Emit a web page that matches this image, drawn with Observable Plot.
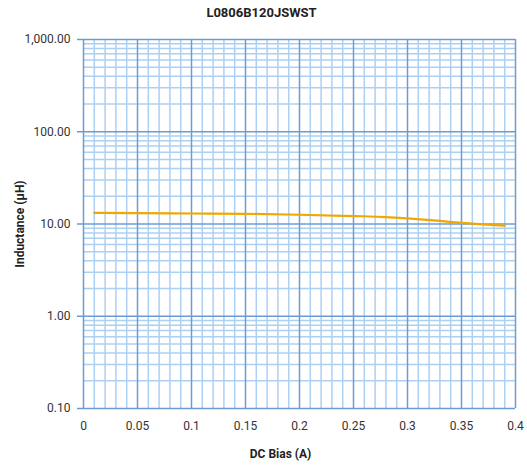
<!DOCTYPE html>
<html>
<head>
<meta charset="utf-8">
<script src="https://cdn.jsdelivr.net/npm/d3@7"></script>
<script src="https://cdn.jsdelivr.net/npm/@observablehq/plot@0.6"></script>
<style>
  html, body { margin: 0; padding: 0; background: #fff; }
  body { width: 527px; height: 470px; overflow: hidden; font-family: Roboto, sans-serif; }
  #title { height: 24px; line-height: 26px; text-align: center; font-weight: bold; font-size: 13px; color: #222; font-family: Roboto, sans-serif; padding-right: 4px; }
  svg g[aria-label="y-axis label"] text { font-weight: bold; fill: #222; font-size: 12px; }
</style>
</head>
<body>
<div id="title"></div>
<div id="chart"></div>
<script>
const title = "L0806B120JSWST";
const xLabel = "DC Bias (A)";
const yLabel = "Inductance (µH)";
const dcBias = [0.01, 0.05, 0.10, 0.15, 0.20, 0.25, 0.28, 0.30, 0.33, 0.35, 0.39];
const inductance = [13.2, 13.1, 13.0, 12.9, 12.6, 12.2, 11.9, 11.5, 10.8, 10.3, 9.6];
const xTicks = [0, 0.05, 0.1, 0.15, 0.2, 0.25, 0.3, 0.35, 0.4];
const xTickLabels = ["0", "0.05", "0.1", "0.15", "0.2", "0.25", "0.3", "0.35", "0.4"];
const yTicks = [0.1, 1, 10, 100, 1000];
const yTickLabels = ["0.10", "1.00", "10.00", "100.00", "1,000.00"];
const xMinor = [0.01,0.02,0.03,0.04,0.06,0.07,0.08,0.09,0.11,0.12,0.13,0.14,0.16,0.17,0.18,0.19,0.21,0.22,0.23,0.24,0.26,0.27,0.28,0.29,0.31,0.32,0.33,0.34,0.36,0.37,0.38,0.39];
const yMinor = [];
for (const dec of [0.1, 1, 10, 100]) for (const m of [2,3,4,5,6,7,8,9]) yMinor.push(+(dec*m).toPrecision(3));

document.getElementById("title").textContent = title;
const data = dcBias.map((x, i) => ({x, y: inductance[i]}));
const xLabelMap = new Map(xTicks.map((d, i) => [d, xTickLabels[i]]));
const yLabelMap = new Map(yTicks.map((d, i) => [d, yTickLabels[i]]));

const majorColor = "#6e9bd3";
const minorColor = "#acd0f1";

const chart = Plot.plot({
  width: 527,
  height: 446,
  marginTop: 15,
  marginRight: 12,
  marginBottom: 62,
  marginLeft: 83,
  style: {fontFamily: "Roboto, sans-serif", fontSize: "12px", color: "#333"},
  x: {domain: [0, 0.4]},
  y: {type: "log", domain: [0.1, 1000]},
  marks: [
    Plot.ruleX(xMinor, {stroke: minorColor, strokeWidth: 1.5}),
    Plot.ruleY(yMinor, {stroke: minorColor, strokeWidth: 1.5}),
    Plot.ruleX(xTicks, {stroke: majorColor, strokeWidth: 1.5}),
    Plot.ruleY(yTicks, {stroke: majorColor, strokeWidth: 1.5}),
    Plot.line(data, {x: "x", y: "y", stroke: "#f0a800", strokeWidth: 2.2, curve: "monotone-x"}),
    Plot.axisX({ticks: xTicks, tickFormat: d => xLabelMap.get(d), tickSize: 0, tickPadding: 13, label: null}),
    Plot.axisY({ticks: yTicks, tickFormat: null, text: null, tickSize: 6, stroke: majorColor, strokeWidth: 1.5, label: null}),
    Plot.axisY({ticks: yTicks, tickFormat: d => yLabelMap.get(d), tickSize: 0, tickPadding: 13, fill: "#333",
      label: yLabel, labelAnchor: "center", labelArrow: "none", labelOffset: 68}),
    Plot.text([xLabel], {frameAnchor: "bottom", dx: -19, dy: 49, fontWeight: "bold", fontSize: 12, fill: "#222"})
  ]
});
document.getElementById("chart").appendChild(chart);
</script>
</body>
</html>
